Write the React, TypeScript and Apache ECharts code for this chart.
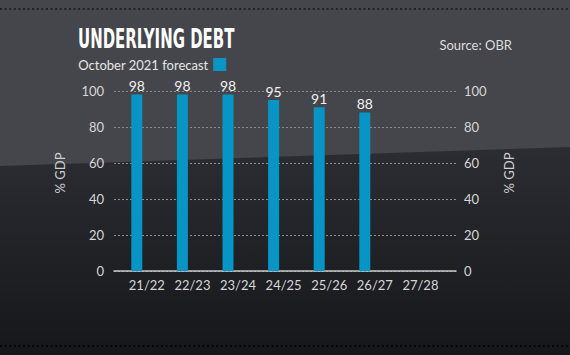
import React, { useEffect, useRef } from "react";
import * as echarts from "echarts";

const categories = ["21/22", "22/23", "23/24", "24/25", "25/26", "26/27", "27/28"];
const debtValues: (number | null)[] = [98, 98, 98, 95, 91, 88, null];
const yTicks = [0, 20, 40, 60, 80, 100];
const seriesName = "October 2021 forecast";
const titleText = "UNDERLYING DEBT";
const sourceText = "Source: OBR";
const axisName = "% GDP";

export default function App() {
  const ref = useRef<HTMLDivElement>(null);
  useEffect(() => {
    if (!ref.current) return;
    const chart = echarts.init(ref.current, null, { renderer: "svg" });
    const W = 570, H = 355;
    const labelShift = 0.22;
    const font = "Lato, 'Open Sans', sans-serif";
    const option: any = {
      animation: false,
      backgroundColor: "#45464b",
      graphic: [
        {
          type: "polygon",
          z: -10,
          silent: true,
          shape: { points: [[0, 166], [W, 147], [W, H], [0, H]] },
          style: {
            fill: new echarts.graphic.LinearGradient(0, 0, 0, 1, [
              { offset: 0, color: "#2c2d32" },
              { offset: 1, color: "#16171b" },
            ]),
          },
        },
        {
          type: "line",
          silent: true,
          shape: { x1: 0, y1: 9, x2: W, y2: 9 },
          style: { stroke: "#222327", lineWidth: 2, lineDash: [2, 2.6] },
        },
        {
          type: "line",
          silent: true,
          shape: { x1: 0, y1: 346, x2: W, y2: 346 },
          style: { stroke: "#050506", lineWidth: 2, lineDash: [2, 2.6] },
        },
        {
          type: "text",
          x: 78,
          y: 39,
          scaleX: 0.665,
          scaleY: 1.05,
          style: {
            text: titleText,
            fill: "#ffffff",
            font: "bold 25px 'Liberation Sans Narrow', 'DejaVu Sans Condensed', sans-serif",
            align: "left",
            verticalAlign: "middle",
          },
        },
        {
          type: "text",
          x: 512,
          y: 45,
          style: {
            text: sourceText,
            fill: "#dcdcdc",
            font: "13px " + font,
            align: "right",
            verticalAlign: "middle",
          },
        },
      ],
      legend: {
        data: [seriesName],
        left: 78,
        top: 58,
        align: "right",
        icon: "rect",
        itemWidth: 13,
        itemHeight: 13,
        padding: 0,
        textStyle: { color: "#e6e6e6", fontSize: 13, fontFamily: font },
      },
      grid: { left: 114, right: 114, top: 91, bottom: 84 },
      xAxis: {
        type: "value",
        min: -0.5,
        max: categories.length,
        splitLine: { show: false },
        axisTick: { show: false },
        axisLine: { show: true, lineStyle: { color: "#c8c8c8", width: 1.5 } },
        axisLabel: {
          customValues: categories.map((_, i) => i + labelShift),
          formatter: (v: number) => categories[Math.round(v - labelShift)] ?? "",
          color: "#d6d6d6",
          fontSize: 13,
          fontFamily: font,
          margin: 7,
        },
      },
      yAxis: [
        {
          type: "value",
          min: yTicks[0],
          max: yTicks[yTicks.length - 1],
          interval: 20,
          position: "left",
          name: axisName,
          nameLocation: "middle",
          nameGap: 48,
          nameTextStyle: { color: "#cfcfcf", fontSize: 13, fontFamily: font, padding: [0, 0, 0, 16] },
          axisLine: { show: false },
          axisTick: { show: false },
          axisLabel: { color: "#d6d6d6", fontSize: 13, fontFamily: font, margin: 10 },
          splitLine: { show: true, lineStyle: { color: "#8c8c8c", width: 1, type: [2, 2] } },
        },
        {
          type: "value",
          min: yTicks[0],
          max: yTicks[yTicks.length - 1],
          interval: 20,
          position: "right",
          name: axisName,
          nameLocation: "middle",
          nameGap: 46,
          nameTextStyle: { color: "#cfcfcf", fontSize: 13, fontFamily: font, padding: [0, 0, 0, 16] },
          axisLine: { show: false },
          axisTick: { show: false },
          axisLabel: { color: "#d6d6d6", fontSize: 13, fontFamily: font, margin: 8 },
          splitLine: { show: false },
        },
      ],
      series: [
        {
          name: seriesName,
          type: "bar",
          barWidth: 11,
          itemStyle: { color: "#0795c6" },
          label: {
            show: true,
            position: "top",
            distance: 2,
            color: "#f0f0f0",
            fontSize: 14,
            fontFamily: font,
          },
          data: debtValues.map((v, i) => [i, v]),
        },
      ],
    };
    chart.setOption(option);
    return () => chart.dispose();
  }, []);
  return (
    <div
      ref={ref}
      style={{ position: "fixed", left: 0, top: 0, width: 570, height: 355 }}
    />
  );
}
